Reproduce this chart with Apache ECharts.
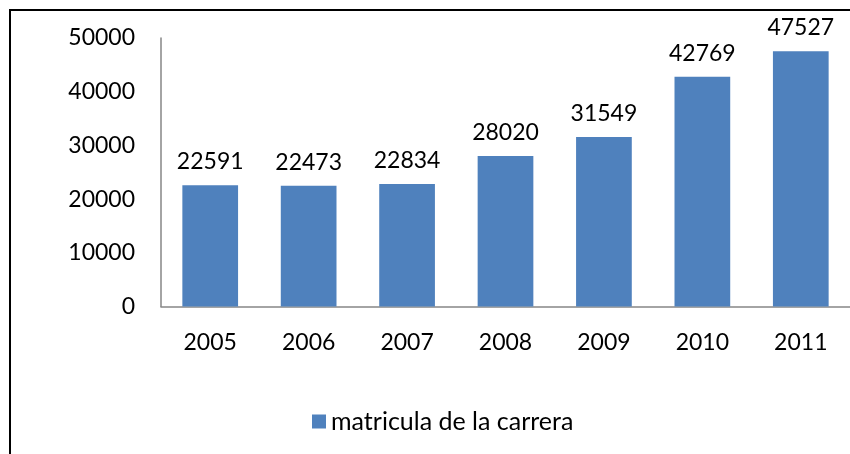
<!DOCTYPE html>
<html>
<head>
<meta charset="utf-8">
<script src="https://cdn.jsdelivr.net/npm/echarts@6/dist/echarts.min.js"></script>
<style>
html,body{margin:0;padding:0;background:#fff;}
#chart{width:850px;height:454px;}
</style>
</head>
<body>
<div id="chart"></div>
<script>
const categories = ['2005','2006','2007','2008','2009','2010','2011'];
const matricula = [22591, 22473, 22834, 28020, 31549, 42769, 47527];
const seriesName = 'matricula de la carrera';

const chart = echarts.init(document.getElementById('chart'), null, {renderer:'canvas'});
const font = 'Lato, "Open Sans", sans-serif';
chart.setOption({
  animation: false,
  backgroundColor: '#ffffff',
  graphic: [{
    type: 'rect',
    shape: {x: 10, y: 10, width: 860, height: 460},
    style: {fill: 'none', stroke: '#000000', lineWidth: 2},
    z: 100
  }],
  grid: {left: 161, top: 38, width: 700, height: 268.5, containLabel: false},
  legend: {
    data: [seriesName],
    left: 307, top: 404,
    itemWidth: 14, itemHeight: 14, itemGap: 8,
    icon: 'rect',
    textStyle: {fontFamily: font, fontSize: 25, color: '#000'}
  },
  xAxis: {
    type: 'category',
    data: categories,
    axisLine: {show: true, lineStyle: {color: '#868686', width: 1.5}},
    axisTick: {show: false},
    axisLabel: {fontFamily: font, fontSize: 23, color: '#000', margin: 25}
  },
  yAxis: {
    type: 'value',
    min: 0, max: 50000, interval: 10000,
    axisLine: {show: true, lineStyle: {color: '#868686', width: 1.5}},
    axisTick: {show: false},
    splitLine: {show: false},
    axisLabel: {fontFamily: font, fontSize: 23, color: '#000', margin: 26,
      formatter: function (v) { return String(v); }}
  },
  series: [{
    name: seriesName,
    type: 'bar',
    data: matricula,
    barWidth: '56.6%',
    itemStyle: {color: '#4F81BD'},
    label: {show: true, position: 'top', distance: 12, fontFamily: font, fontSize: 23, color: '#000'}
  }]
});
</script>
</body>
</html>
